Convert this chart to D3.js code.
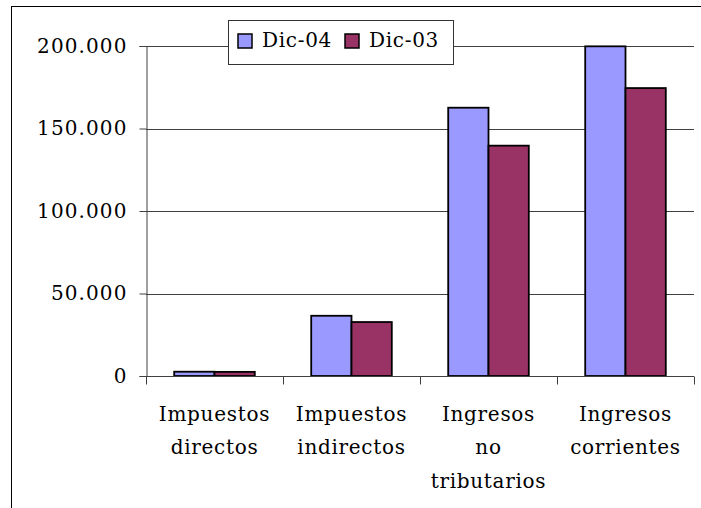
<!DOCTYPE html>
<html>
<head>
<meta charset="utf-8">
<script src="https://cdn.jsdelivr.net/npm/d3@7"></script>
<style>
  body { margin: 0; background: #fff; }
  text { font-family: "DejaVu Serif", serif; }
</style>
</head>
<body>
<div id="chart"></div>
<script>
// categories and series
const categories = [
    ["Impuestos", "directos"],
    ["Impuestos", "indirectos"],
    ["Ingresos", "no", "tributarios"],
    ["Ingresos", "corrientes"]
];
const seriesNames = ["Dic-04", "Dic-03"];
const dic04 = [2600, 36500, 162600, 199800];
const dic03 = [2500, 32700, 139600, 174500];
const yTicks = [0, 50000, 100000, 150000, 200000];

const width = 701, height = 508;
const colors = ["#9999ff", "#993366"];
const fontSize = 20;

const svg = d3.select("#chart").append("svg")
    .attr("width", width)
    .attr("height", height);

// outer frame (right and bottom sides fall outside the picture)
svg.append("rect")
    .attr("x", 11.5).attr("y", 6.5)
    .attr("width", 720).attr("height", 520)
    .attr("fill", "none")
    .attr("stroke", "#000");

const plot = { left: 146, right: 694, top: 46, bottom: 376 };

const x0 = d3.scaleBand()
    .domain(d3.range(categories.length))
    .range([plot.left, plot.right]);

const x1 = d3.scaleBand()
    .domain(d3.range(seriesNames.length))
    .range([0, x0.bandwidth()])
    .paddingOuter(0.7);

const y = d3.scaleLinear()
    .domain([0, 200000])
    .range([plot.bottom, plot.top]);

// gridlines
svg.append("g")
    .selectAll("line")
    .data(yTicks.filter(d => d > 0))
    .join("line")
    .attr("x1", plot.left).attr("x2", plot.right)
    .attr("y1", d => Math.round(y(d)) + 0.5)
    .attr("y2", d => Math.round(y(d)) + 0.5)
    .attr("stroke", "#404040");

// bars
const data = [dic04, dic03];
svg.append("g")
    .selectAll("g")
    .data(categories.map((c, i) => i))
    .join("g")
    .attr("transform", i => `translate(${x0(i)},0)`)
    .selectAll("rect")
    .data(i => data.map((s, k) => ({ k: k, v: s[i] })))
    .join("rect")
    .attr("x", d => x1(d.k))
    .attr("y", d => y(d.v))
    .attr("width", x1.bandwidth())
    .attr("height", d => plot.bottom - y(d.v))
    .attr("fill", d => colors[d.k])
    .attr("stroke", "#000")
    .attr("stroke-width", 1.8);

// y axis
const yAxis = svg.append("g")
    .attr("transform", `translate(${plot.left + 0.5},0)`)
    .call(d3.axisLeft(y)
        .tickValues(yTicks)
        .tickSize(7)
        .tickPadding(12)
        .tickFormat(d => d3.format(",")(d).replace(/,/g, ".")));
yAxis.select(".domain").attr("stroke", "#404040");
yAxis.selectAll(".tick line").attr("stroke", "#404040");
yAxis.selectAll("text")
    .attr("font-size", fontSize)
    .attr("font-family", "DejaVu Serif")
    .attr("letter-spacing", 1.1)
    .attr("fill", "#000");

// x axis
const xAxis = svg.append("g")
    .attr("transform", `translate(0,${plot.bottom + 0.5})`);
xAxis.append("line")
    .attr("x1", plot.left).attr("x2", plot.right)
    .attr("stroke", "#404040");
xAxis.selectAll(".xtick")
    .data(d3.range(categories.length + 1))
    .join("line")
    .attr("class", "xtick")
    .attr("x1", i => Math.round(plot.left + i * x0.bandwidth()) + 0.5)
    .attr("x2", i => Math.round(plot.left + i * x0.bandwidth()) + 0.5)
    .attr("y1", 0).attr("y2", 8)
    .attr("stroke", "#404040");

xAxis.selectAll(".xlabel")
    .data(categories)
    .join("text")
    .attr("class", "xlabel")
    .attr("text-anchor", "middle")
    .attr("font-size", fontSize)
    .attr("letter-spacing", 0.7)
    .attr("fill", "#000")
    .each(function (lines, i) {
        d3.select(this).selectAll("tspan")
            .data(lines)
            .join("tspan")
            .attr("x", x0(i) + x0.bandwidth() / 2)
            .attr("y", (d, j) => 44 + j * 33.5)
            .text(d => d);
    });

// legend
const legend = svg.append("g");
legend.append("rect")
    .attr("x", 228.5).attr("y", 20.5)
    .attr("width", 225).attr("height", 44)
    .attr("fill", "#fff")
    .attr("stroke", "#333");
const legendX = [238, 345];
const item = legend.selectAll(".item")
    .data(seriesNames)
    .join("g")
    .attr("class", "item");
item.append("rect")
    .attr("x", (d, i) => legendX[i])
    .attr("y", 34)
    .attr("width", 14).attr("height", 14)
    .attr("fill", (d, i) => colors[i])
    .attr("stroke", "#000")
    .attr("stroke-width", 1.5);
item.append("text")
    .attr("x", (d, i) => legendX[i] + 24)
    .attr("y", 47)
    .attr("font-size", fontSize)
    .attr("letter-spacing", 0.7)
    .attr("fill", "#000")
    .text(d => d);
</script>
</body>
</html>
